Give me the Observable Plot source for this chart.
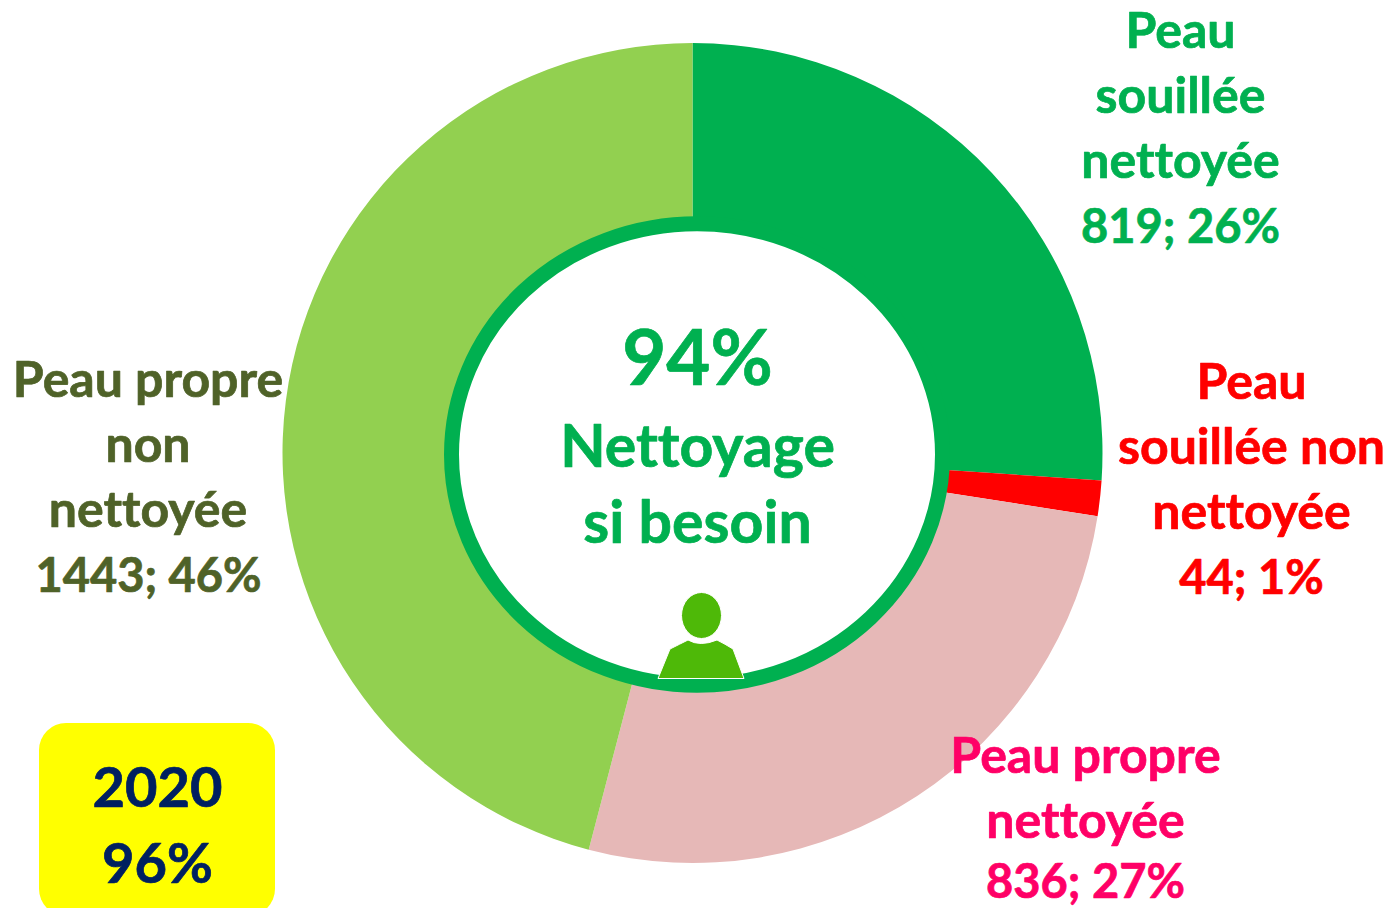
<!DOCTYPE html>
<html lang="fr">
<head>
<meta charset="utf-8">
<style>html,body{margin:0;padding:0;background:#fff;overflow:hidden}svg{display:block}svg text{font-variant-ligatures:none}</style>
<script src="https://cdn.jsdelivr.net/npm/d3@7"></script>
<script src="https://cdn.jsdelivr.net/npm/@observablehq/plot@0.6"></script>
</head>
<body>
<div id="chart"></div>
<script>
const categories = ["Peau\nsouillée\nnettoyée", "Peau\nsouillée non\nnettoyée", "Peau propre\nnettoyée", "Peau propre\nnon\nnettoyée"];
const counts = [819, 44, 836, 1443];
const percents = [26, 1, 27, 46];
const sliceColors = ["#00B050", "#FF0000", "#E6B8B7", "#92D050"];
const textColors = ["#00B050", "#FF0000", "#FF0066", "#4F6228"];
const centerValue = "94%";
const centerLabel = "Nettoyage\nsi besoin";
const yearLabel = "2020\n96%";

const FONT = "Lato, Carlito, sans-serif";
const categoryAnchors = [[1180, 92], [1251, 443], [1085, 784.5], [147.5, 440.5]];
const valueAnchors = [[1180, 227], [1251, 578], [1085, 882], [148, 576]];

const donut = (index, {x, y}) => {
  const g = d3.create("svg:g");
  const pie = d3.pie().sort(null)(counts);
  const arc = d3.arc().innerRadius(x(225) - x(0)).outerRadius(x(410) - x(0));
  g.attr("transform", `translate(${x(692.5)},${y(453)})`)
    .selectAll("path").data(pie).join("path")
    .attr("fill", (d, i) => sliceColors[i])
    .attr("d", arc);
  return g.node();
};

const ring = (index, {x, y}) => d3.create("svg:ellipse")
  .attr("cx", x(697)).attr("cy", y(454.5))
  .attr("rx", x(245.5) - x(0)).attr("ry", y(230.75) - y(0))
  .attr("fill", "#fff").attr("stroke", "#00B050").attr("stroke-width", 15)
  .node();

const person = (index, {x, y}) => {
  const g = d3.create("svg:g")
    .attr("fill", "#4EB908").attr("stroke", "#fff").attr("stroke-width", 1);
  g.append("ellipse").attr("cx", x(701.5)).attr("cy", y(615.5)).attr("rx", 20).attr("ry", 23);
  const p = d3.path();
  p.moveTo(x(658), y(678.5));
  p.lineTo(x(670), y(649));
  p.quadraticCurveTo(x(680), y(644), x(688), y(640));
  p.quadraticCurveTo(x(700), y(647), x(717), y(640));
  p.quadraticCurveTo(x(725), y(644), x(733), y(649));
  p.lineTo(x(744), y(678.5));
  p.closePath();
  g.append("path").attr("d", p.toString());
  return g.node();
};

const pinned = (px, py) => ({frameAnchor: "top-left", dx: px, dy: py});
const bold = (color, size) => ({
  text: d => d, fill: color, stroke: color, strokeWidth: 0.7,
  fontFamily: FONT, fontWeight: 700, fontSize: size,
  lineAnchor: "middle", textAnchor: "middle"
});

const chart = Plot.plot({
  width: 1393,
  height: 908,
  margin: 0,
  style: {background: "#fff"},
  x: {domain: [0, 1393], range: [0, 1393], axis: null},
  y: {domain: [0, 908], range: [0, 908], axis: null},
  marks: [
    donut,
    ring,
    person,
    Plot.rect([yearLabel], {x1: () => 39, x2: () => 275, y1: () => 723, y2: () => 916, fill: "#FFFF00", rx: 27, ry: 27}),
    ...categories.map((c, i) => Plot.text([c], {
      ...bold(textColors[i], 50), ...pinned(...categoryAnchors[i]), lineHeight: 65 / 50
    })),
    ...categories.map((c, i) => Plot.text([`${counts[i]}; ${percents[i]}%`], {
      ...bold(textColors[i], 47), ...pinned(...valueAnchors[i])
    })),
    Plot.text([centerValue], {...bold("#00B050", 76), ...pinned(697, 360)}),
    Plot.text([centerLabel], {...bold("#00B050", 59), ...pinned(697, 480.5), lineHeight: 76 / 59}),
    Plot.text([yearLabel], {...bold("#002060", 56), ...pinned(157, 820), lineHeight: 76 / 56})
  ]
});
document.getElementById("chart").append(chart);
</script>
</body>
</html>
